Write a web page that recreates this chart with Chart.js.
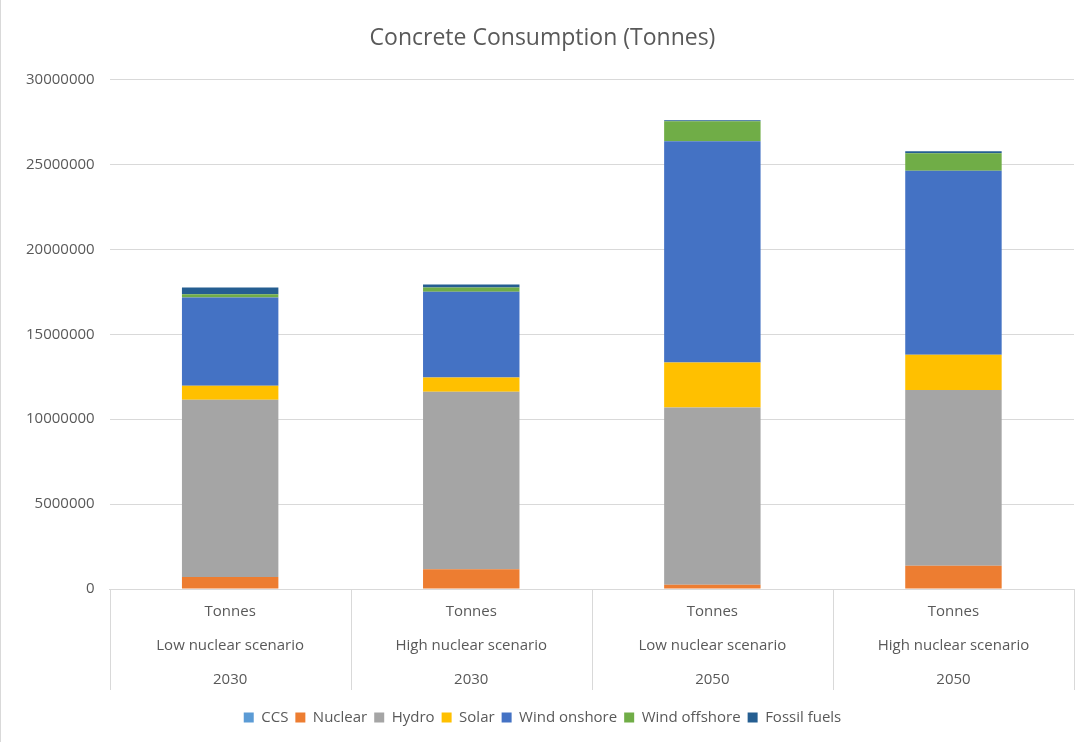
<!DOCTYPE html>
<html>
<head>
<meta charset="utf-8">
<script src="https://cdn.jsdelivr.net/npm/chart.js@4.4.0/dist/chart.umd.min.js"></script>
<style>
  html, body { margin: 0; padding: 0; background: #fff; }
  #wrap { position: relative; width: 1092px; height: 742px; box-sizing: border-box; border-left: 1px solid #d9d9d9; }
</style>
</head>
<body>
<div id="wrap"><canvas id="myChart" width="1092" height="742"></canvas></div>
<script>
const categories = [
    ['Tonnes', 'Low nuclear scenario', '2030'],
    ['Tonnes', 'High nuclear scenario', '2030'],
    ['Tonnes', 'Low nuclear scenario', '2050'],
    ['Tonnes', 'High nuclear scenario', '2050']
];

const ccs          = [0, 0, 0, 0];
const nuclear      = [700000, 1160000, 250000, 1370000];
const hydro        = [10450000, 10450000, 10440000, 10350000];
const solar        = [820000, 840000, 2650000, 2080000];
const windOnshore  = [5200000, 5060000, 13030000, 10830000];
const windOffshore = [190000, 250000, 1180000, 1030000];
const fossilFuels  = [390000, 180000, 60000, 120000];

const yTicks = [0, 5000000, 10000000, 15000000, 20000000, 25000000, 30000000];

const textColor = '#595959';
const gridColor = '#d9d9d9';
const fontFamily = "'Open Sans', 'Noto Sans', sans-serif";

// lignes verticales entre les catégories, sous l'axe
const separators = {
    id: 'separators',
    afterDraw(chart) {
        const { ctx, chartArea } = chart;
        const n = categories.length;
        const w = (chartArea.right - chartArea.left) / n;
        ctx.save();
        ctx.strokeStyle = gridColor;
        ctx.lineWidth = 1;
        for (let i = 0; i <= n; i++) {
            const x = Math.round(chartArea.left + i * w) + 0.5;
            ctx.beginPath();
            ctx.moveTo(x, chartArea.bottom);
            ctx.lineTo(x, chartArea.bottom + 101);
            ctx.stroke();
        }
        ctx.restore();
    }
};

const ctx = document.getElementById('myChart').getContext('2d');
const myChart = new Chart(ctx, {
    type: 'bar',
    data: {
        labels: categories,
        datasets: [
            { label: 'CCS', data: ccs, backgroundColor: '#5B9BD5' },
            { label: 'Nuclear', data: nuclear, backgroundColor: '#ED7D31' },
            { label: 'Hydro', data: hydro, backgroundColor: '#A5A5A5' },
            { label: 'Solar', data: solar, backgroundColor: '#FFC000' },
            { label: 'Wind onshore', data: windOnshore, backgroundColor: '#4472C4' },
            { label: 'Wind offshore', data: windOffshore, backgroundColor: '#70AD47' },
            { label: 'Fossil fuels', data: fossilFuels, backgroundColor: '#255E91' }
        ]
    },
    options: {
        responsive: false,
        animation: false,
        layout: { padding: { left: 10, right: 19, top: 0, bottom: 7 } },
        datasets: { bar: { categoryPercentage: 1, barPercentage: 0.4 } },
        scales: {
            x: {
                stacked: true,
                grid: { display: false, drawTicks: false },
                border: { display: true, color: gridColor },
                ticks: {
                    color: textColor,
                    padding: 6,
                    maxRotation: 0,
                    font: { family: fontFamily, size: 15, lineHeight: 34 / 15 }
                }
            },
            y: {
                stacked: true,
                min: 0,
                max: 30000000,
                afterBuildTicks(axis) { axis.ticks = yTicks.map(v => ({ value: v })); },
                grid: { color: gridColor, drawTicks: false },
                border: { display: false },
                ticks: {
                    color: textColor,
                    padding: 15,
                    font: { family: fontFamily, size: 15 },
                    callback: v => String(v)
                }
            }
        },
        plugins: {
            title: {
                display: true,
                text: 'Concrete Consumption (Tonnes)',
                color: textColor,
                padding: { top: 25, bottom: 27 },
                font: { family: fontFamily, size: 23, weight: 'normal' }
            },
            legend: {
                position: 'bottom',
                labels: {
                    color: textColor,
                    boxWidth: 10,
                    boxHeight: 10,
                    padding: 7,
                    font: { family: fontFamily, size: 15 }
                }
            },
            tooltip: { enabled: false }
        }
    },
    plugins: [separators]
});
</script>
</body>
</html>
